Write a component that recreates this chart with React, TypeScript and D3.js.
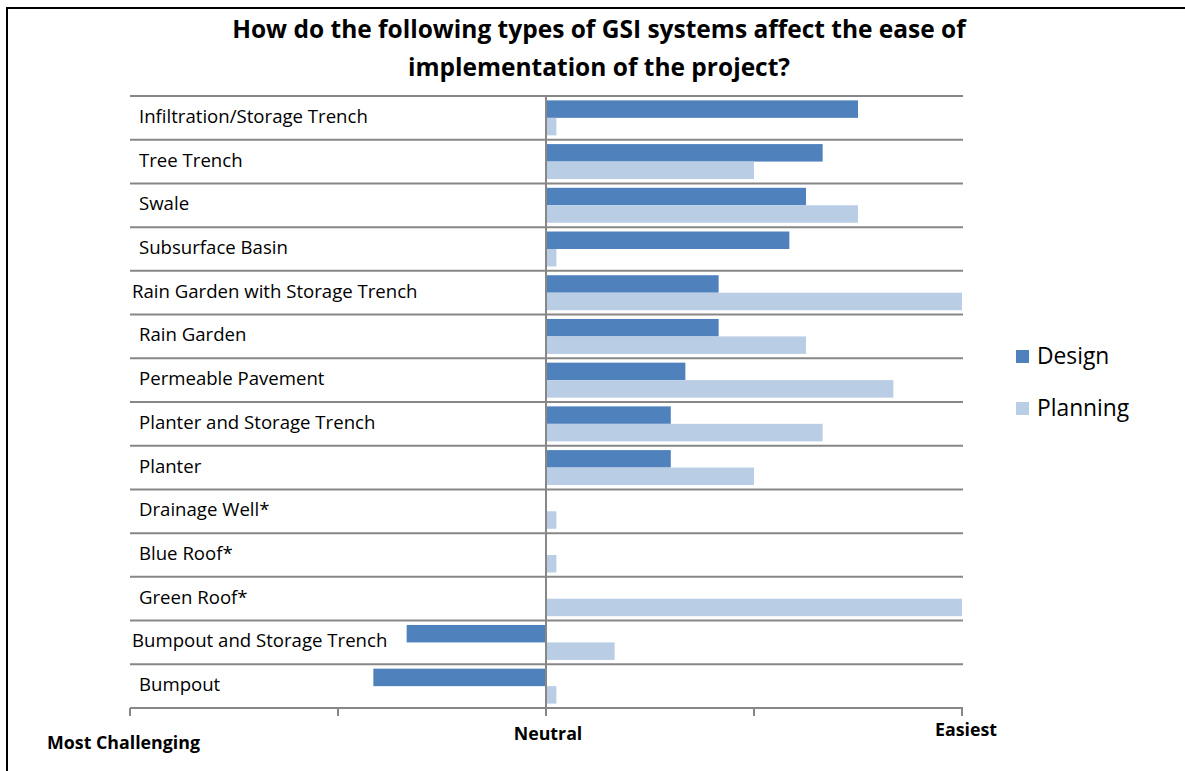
import React from "react";
import * as d3 from "d3";

const categories = [
  "Infiltration/Storage Trench",
  "Tree Trench",
  "Swale",
  "Subsurface Basin",
  "Rain Garden with Storage Trench",
  "Rain Garden",
  "Permeable Pavement",
  "Planter and Storage Trench",
  "Planter",
  "Drainage Well*",
  "Blue Roof*",
  "Green Roof*",
  "Bumpout and Storage Trench",
  "Bumpout",
];

const designValues: (number | null)[] = [
  1.5, 1.33, 1.25, 1.17, 0.83, 0.83, 0.67, 0.6, 0.6, null, null, null, -0.67, -0.83,
];
const planningValues: (number | null)[] = [
  0.05, 1.0, 1.5, 0.05, 2.0, 1.25, 1.67, 1.33, 1.0, 0.05, 0.05, 2.0, 0.33, 0.05,
];

const seriesNames = ["Design", "Planning"];
const seriesColors = ["#4F81BD", "#B9CDE5"];
const tickValues = [-2, -1, 0, 1, 2];
const axisLabels = [
  { value: -2, text: "Most Challenging" },
  { value: 0, text: "Neutral" },
  { value: 2, text: "Easiest" },
];
const titleLines = [
  "How do the following types of GSI systems affect the ease of",
  "implementation of the project?",
];
const shiftedLabels = ["Rain Garden with Storage Trench", "Bumpout and Storage Trench"];

const W = 1185;
const H = 771;
const FONT = "'Open Sans', sans-serif";
const GRID = "#878787";

export default function App() {
  const x = d3.scaleLinear().domain([-2, 2]).range([130, 962]);
  const y = d3.scaleBand<string>().domain(categories).range([96, 708]).paddingInner(0).paddingOuter(0);
  const inner = d3
    .scaleBand<string>()
    .domain(seriesNames)
    .range([0, y.bandwidth()])
    .paddingInner(0)
    .paddingOuter(0.25);
  const seriesData = [designValues, planningValues];
  const x0 = x(0);
  const bottom = 708;

  return (
    <svg
      width={W}
      height={H}
      style={{ position: "absolute", left: 0, top: 0, background: "#fff" }}
      fontFamily={FONT}
    >
      <rect x={0} y={0} width={W} height={H} fill="#fff" />
      <path d={`M7,${H} V8 H${W}`} fill="none" stroke="#000" strokeWidth={2} />

      {titleLines.map((t, i) => (
        <text
          key={i}
          x={599}
          y={38 + i * 38}
          textAnchor="middle"
          fontSize={24.5}
          fontWeight="bold"
          fill="#000"
        >
          {t}
        </text>
      ))}

      {categories.map((c) => (
        <line key={c} x1={130} x2={963} y1={y(c)!} y2={y(c)!} stroke={GRID} strokeWidth={2} />
      ))}

      {seriesData.map((vals, si) =>
        vals.map((v, i) =>
          v === null ? null : (
            <rect
              key={`${si}-${i}`}
              x={Math.min(x(v), x0)}
              width={Math.abs(x(v) - x0)}
              y={y(categories[i])! + inner(seriesNames[si])!}
              height={inner.bandwidth()}
              fill={seriesColors[si]}
            />
          )
        )
      )}

      <line x1={x0} x2={x0} y1={96} y2={bottom + 8} stroke={GRID} strokeWidth={2} />

      <line x1={130} x2={963} y1={bottom} y2={bottom} stroke={GRID} strokeWidth={2} />
      {tickValues.map((t) => (
        <line key={t} x1={x(t)} x2={x(t)} y1={bottom} y2={bottom + 8} stroke={GRID} strokeWidth={2} />
      ))}

      {categories.map((c) => (
        <text
          key={c}
          x={shiftedLabels.includes(c) ? 132 : 139}
          y={y(c)! + y.bandwidth() / 2 + 5}
          fontSize={18.6}
          fill="#000"
        >
          {c}
        </text>
      ))}

      <text x={123.5} y={749} textAnchor="middle" fontSize={17.8} fontWeight="bold">
        {axisLabels[0].text}
      </text>
      <text x={x(axisLabels[1].value) + 2} y={740} textAnchor="middle" fontSize={17.8} fontWeight="bold">
        {axisLabels[1].text}
      </text>
      <text x={x(axisLabels[2].value) + 4} y={736} textAnchor="middle" fontSize={17.8} fontWeight="bold">
        {axisLabels[2].text}
      </text>

      {seriesNames.map((s, i) => (
        <g key={s} transform={`translate(1016, ${350 + i * 52})`}>
          <rect x={0} y={0} width={13} height={13} fill={seriesColors[i]} />
          <text x={21} y={14} fontSize={22.8} fill="#000">
            {s}
          </text>
        </g>
      ))}
    </svg>
  );
}
